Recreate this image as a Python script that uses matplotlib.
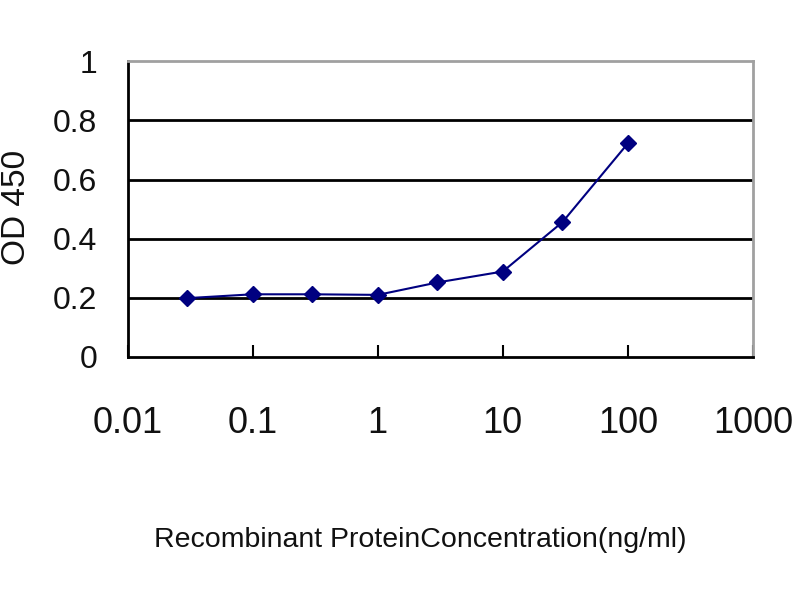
import matplotlib
matplotlib.use("Agg")
import matplotlib.pyplot as plt
from matplotlib.ticker import FixedLocator, FixedFormatter, NullLocator

concentration = [0.03, 0.1, 0.3, 1, 3, 10, 30, 100]
od450 = [0.199, 0.212, 0.212, 0.210, 0.252, 0.289, 0.456, 0.722]
xtick_vals = [0.01, 0.1, 1, 10, 100, 1000]
xtick_labels = ["0.01", "0.1", "1", "10", "100", "1000"]
ytick_vals = [0, 0.2, 0.4, 0.6, 0.8, 1]
ytick_labels = ["0", "0.2", "0.4", "0.6", "0.8", "1"]

fam = ["Liberation Sans", "DejaVu Sans"]

fig = plt.figure(figsize=(8, 6), dpi=100)
ax = fig.add_axes([0.1596, 0.405, 0.7815, 0.493])
ax.set_xscale("log")
ax.set_xlim(0.01, 1000)
ax.set_ylim(0, 1)

for v in ytick_vals[1:-1]:
    ax.axhline(v, color="black", lw=2.0, zorder=1)

ax.plot(concentration, od450, color="#000080", lw=1.5, marker="D",
        markersize=8, markerfacecolor="#000080", markeredgecolor="#000080", zorder=3)

ax.xaxis.set_major_locator(FixedLocator(xtick_vals))
ax.xaxis.set_major_formatter(FixedFormatter(xtick_labels))
ax.xaxis.set_minor_locator(NullLocator())
ax.yaxis.set_major_locator(FixedLocator(ytick_vals))
ax.yaxis.set_major_formatter(FixedFormatter(ytick_labels))

ax.tick_params(axis="x", direction="in", length=9, width=1.5, color="black",
               pad=35, labelsize=26, labelcolor="#111111")
ax.tick_params(axis="y", length=0, pad=22, labelsize=23, labelcolor="#111111")
for lab in ax.get_xticklabels() + ax.get_yticklabels():
    lab.set_fontfamily(fam)

ax.spines["left"].set_color("black")
ax.spines["left"].set_linewidth(2)
ax.spines["bottom"].set_color("black")
ax.spines["bottom"].set_linewidth(2)
ax.spines["top"].set_color("#a0a0a0")
ax.spines["top"].set_linewidth(2)
ax.spines["right"].set_color("#a0a0a0")
ax.spines["right"].set_linewidth(2)

fig.text(420 / 800, 1 - 540 / 600, "Recombinant ProteinConcentration(ng/ml)",
         ha="center", va="center", fontsize=20.5, family=fam, color="#111111")
fig.text(17 / 800, 1 - 207 / 600, "OD 450", rotation=90, ha="center", va="center",
         fontsize=24, family=fam, color="#111111")

fig.savefig("out.png", dpi=100, facecolor="white")
